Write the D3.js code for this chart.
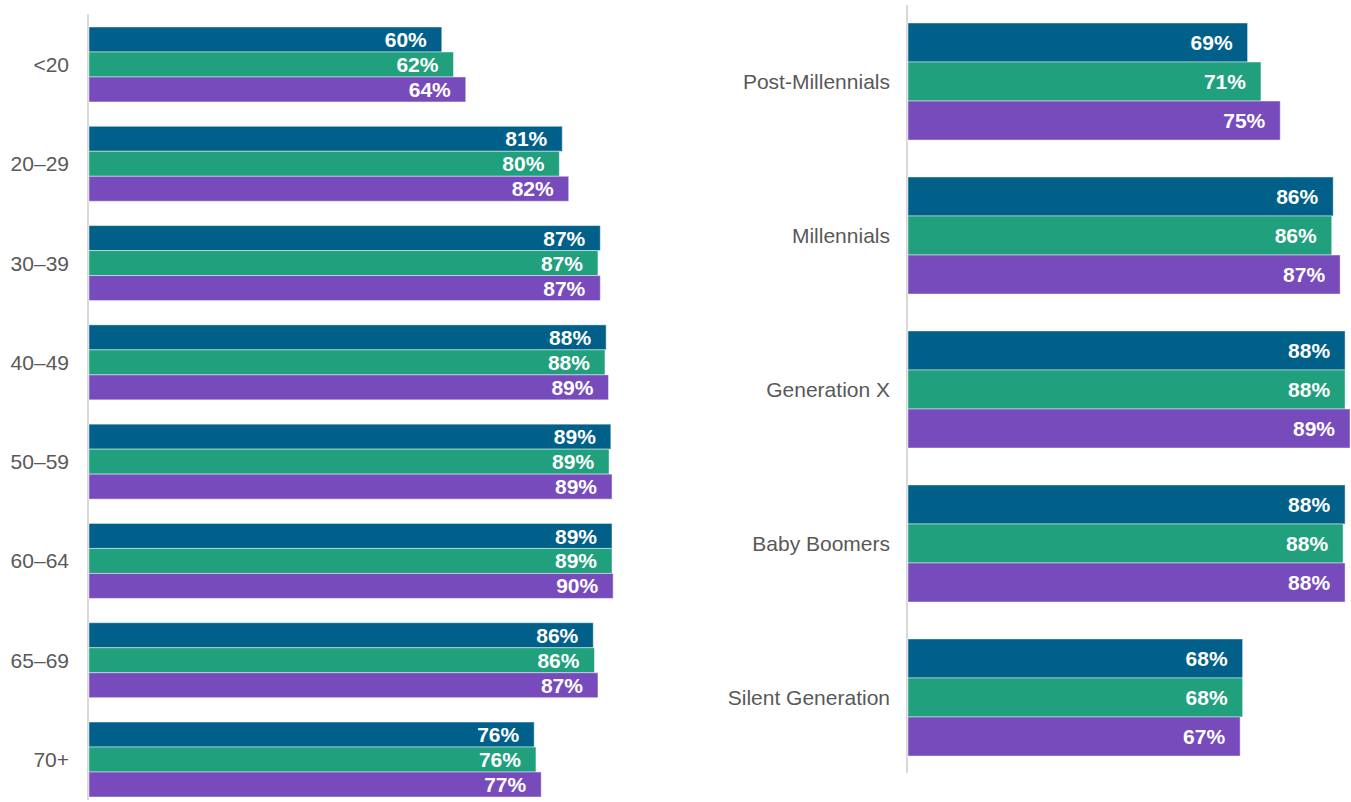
<!DOCTYPE html>
<html>
<head>
<meta charset="utf-8">
<script src="https://cdn.jsdelivr.net/npm/d3@7"></script>
<style>
  body { margin: 0; background: #fff; }
  svg { display: block; font-family: "Liberation Sans", Arial, sans-serif; }
</style>
</head>
<body>
<svg id="chart" width="1351" height="802"></svg>
<script>
// categories
const ageGroups = ["<20", "20–29", "30–39", "40–49", "50–59", "60–64", "65–69", "70+"];
const generations = ["Post-Millennials", "Millennials", "Generation X", "Baby Boomers", "Silent Generation"];
const seriesKeys = ["s1", "s2", "s3"];
const colors = ["#006089", "#21a07e", "#784bbd"];

// values (%), per series
const ageS1 = [60.3, 80.9, 87.4, 88.4, 89.2, 89.4, 86.2, 76.1];
const ageS2 = [62.3, 80.4, 87.0, 88.2, 88.9, 89.4, 86.4, 76.4];
const ageS3 = [64.4, 82.0, 87.4, 88.8, 89.4, 89.6, 87.0, 77.3];

const genS1 = [68.6, 85.9, 88.3, 88.3, 67.6];
const genS2 = [71.3, 85.6, 88.3, 87.9, 67.6];
const genS3 = [75.2, 87.3, 89.3, 88.3, 67.1];

const svg = d3.select("#chart");

function rows(cats, s1, s2, s3) {
  return cats.map((c, i) => ({ cat: c, vals: [s1[i], s2[i], s3[i]] }));
}

function panel(opts) {
  const data = rows(opts.cats, opts.s1, opts.s2, opts.s3);

  const x = d3.scaleLinear().domain([0, 100]).range([opts.x0, opts.x0 + opts.pxWidth]);

  const y = d3.scaleBand()
    .domain(opts.cats)
    .range([opts.yTop, opts.yBottom])
    .paddingInner(opts.pad)
    .paddingOuter(0);

  const ySub = d3.scaleBand().domain(seriesKeys).range([0, y.bandwidth()]);

  const g = svg.append("g");

  // axis line
  g.append("line")
    .attr("x1", opts.x0 - 1).attr("x2", opts.x0 - 1)
    .attr("y1", opts.axisTop).attr("y2", opts.axisBottom)
    .attr("stroke", "#d9d9d9")
    .attr("stroke-width", 2);

  const grp = g.selectAll(".grp")
    .data(data)
    .enter().append("g")
    .attr("class", "grp")
    .attr("transform", d => `translate(0,${y(d.cat)})`);

  grp.selectAll("rect")
    .data(d => d.vals.map((v, i) => ({ key: seriesKeys[i], v: v, i: i })))
    .enter().append("rect")
    .attr("x", x(0))
    .attr("y", d => ySub(d.key))
    .attr("width", d => x(d.v) - x(0))
    .attr("height", ySub.bandwidth())
    .attr("fill", d => colors[d.i])
    .attr("stroke", "#ffffff")
    .attr("stroke-opacity", 0.45)
    .attr("stroke-width", 1);

  grp.selectAll("text.val")
    .data(d => d.vals.map((v, i) => ({ key: seriesKeys[i], v: v })))
    .enter().append("text")
    .attr("class", "val")
    .attr("x", d => x(d.v) - 15)
    .attr("y", d => ySub(d.key) + ySub.bandwidth() / 2)
    .attr("dy", "0.36em")
    .attr("text-anchor", "end")
    .attr("fill", "#ffffff")
    .style("font-weight", "bold")
    .style("font-size", "21px")
    .text(d => Math.round(d.v) + "%");

  // category labels
  g.selectAll("text.cat")
    .data(opts.cats)
    .enter().append("text")
    .attr("class", "cat")
    .attr("x", opts.x0 - opts.labelGap)
    .attr("y", d => y(d) + y.bandwidth() / 2)
    .attr("dy", "0.36em")
    .attr("text-anchor", "end")
    .attr("fill", "#595959")
    .style("font-size", "21px")
    .text(d => d);
}

panel({
  cats: ageGroups, s1: ageS1, s2: ageS2, s3: ageS3,
  x0: 89, pxWidth: 585,
  yTop: 27, yBottom: 797, pad: 0.245,
  axisTop: 14, axisBottom: 800,
  labelGap: 20
});

panel({
  cats: generations, s1: genS1, s2: genS2, s3: genS3,
  x0: 908, pxWidth: 495,
  yTop: 23, yBottom: 756, pad: 0.24,
  axisTop: 5, axisBottom: 773,
  labelGap: 18
});
</script>
</body>
</html>
